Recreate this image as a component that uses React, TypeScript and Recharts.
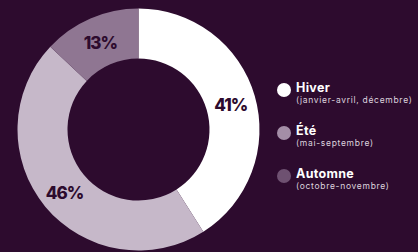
import React from 'react';
import { PieChart, Pie, Cell, Legend } from 'recharts';

const seasons = ['Hiver', 'Été', 'Automne'];
const months = ['(janvier-avril, décembre)', '(mai-septembre)', '(octobre-novembre)'];
const shares = [41, 46, 13];

const data = seasons.map((name, i) => ({ name, value: shares[i], months: months[i] }));

const BG = '#2d0b2e';
const COLORS = ['#ffffff', '#c6b8c9', '#8f7692'];
const DOTS = ['#ffffff', '#a48ea7', '#6e5171'];
const FONT = 'Inter, Lato, "DejaVu Sans", sans-serif';

const RADIAN = Math.PI / 180;

const renderLabel = (props: any) => {
  const { cx, cy, midAngle, innerRadius, outerRadius, value } = props;
  const r = (innerRadius + outerRadius) / 2;
  const x = cx + r * Math.cos(-midAngle * RADIAN);
  const y = cy + r * Math.sin(-midAngle * RADIAN) + 2;
  return (
    <text
      x={x}
      y={y}
      fill={BG}
      textAnchor="middle"
      dominantBaseline="central"
      fontFamily={FONT}
      fontWeight={800}
      fontSize={17}
      letterSpacing={-1}
    >
      {`${value}%`}
    </text>
  );
};

const renderLegend = () => (
  <div style={{ fontFamily: FONT }}>
    {data.map((d, i) => (
      <div key={d.name} style={{ position: 'relative', height: 43, paddingLeft: 20 }}>
        <span
          style={{
            position: 'absolute',
            left: 1,
            top: 2,
            width: 14,
            height: 14,
            borderRadius: '50%',
            background: DOTS[i],
          }}
        />
        <div style={{ color: '#ffffff', fontSize: 12.5, fontWeight: 700, lineHeight: '14px', letterSpacing: 0.3 }}>
          {d.name}
        </div>
        <div style={{ color: '#ddd3df', fontSize: 8.5, lineHeight: '10px', letterSpacing: 0.7, whiteSpace: 'nowrap' }}>
          {d.months}
        </div>
      </div>
    ))}
  </div>
);

export default function App() {
  return (
    <div style={{ position: 'fixed', top: 0, left: 0, width: 418, height: 252, background: BG }}>
      <PieChart width={418} height={252} margin={{ top: 0, right: 0, bottom: 0, left: 0 }}>
        <Pie
          data={data}
          dataKey="value"
          cx={138.5}
          cy={129.5}
          innerRadius={71}
          outerRadius={121}
          startAngle={90}
          endAngle={-270}
          stroke="none"
          label={renderLabel}
          labelLine={false}
          isAnimationActive={false}
        >
          {data.map((entry, index) => (
            <Cell key={`cell-${index}`} fill={COLORS[index]} />
          ))}
        </Pie>
        <Legend
          layout="vertical"
          verticalAlign="middle"
          align="right"
          content={renderLegend}
          wrapperStyle={{ left: 276, top: 81, width: 142 }}
        />
      </PieChart>
    </div>
  );
}
